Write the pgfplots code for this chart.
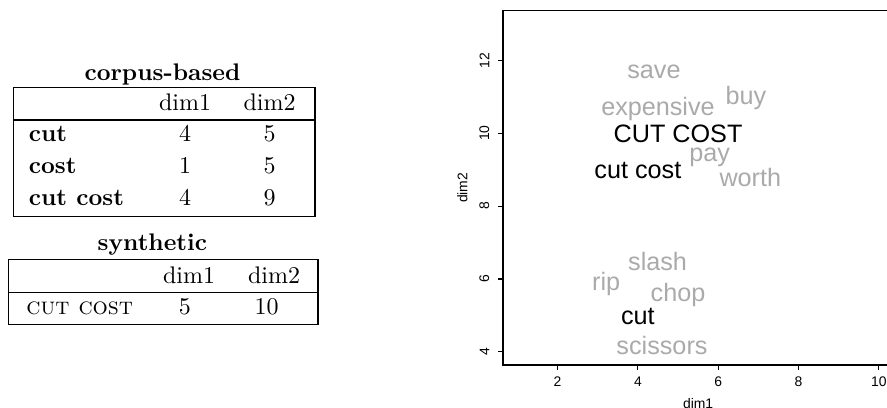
\documentclass[border=0pt]{standalone}
\usepackage{fontspec}
\usepackage{pgfplots}
\pgfplotsset{compat=1.18}
\newfontfamily\arial{Liberation Sans}
\definecolor{wordgray}{RGB}{170,170,170}

\begin{document}
\begin{tikzpicture}[x=1pt,y=1pt]
% corpus-based table
\node[anchor=base] at (67.7,136.4) {\textbf{corpus-based}};
\draw[line width=0.45pt] (5.5,79.7) rectangle (131.25,133.5);
\draw[line width=0.45pt] (5.5,120) -- (131.25,120);
\node[anchor=base] at (77.1,123.9) {dim1};
\node[anchor=base] at (112.3,123.9) {dim2};
\node[anchor=base west,inner sep=0pt] at (11.8,111.0) {\textbf{cut}};
\node[anchor=base] at (77.1,111.0) {4};
\node[anchor=base] at (112.3,111.0) {5};
\node[anchor=base west,inner sep=0pt] at (11.8,97.8) {\textbf{cost}};
\node[anchor=base] at (77.1,97.8) {1};
\node[anchor=base] at (112.3,97.8) {5};
\node[anchor=base west,inner sep=0pt] at (11.8,84.3) {\textbf{cut cost}};
\node[anchor=base] at (77.1,84.3) {4};
\node[anchor=base] at (112.3,84.3) {9};
% synthetic table
\node[anchor=base] at (63.5,65.8) {\textbf{synthetic}};
\draw[line width=0.45pt] (3.5,34.6) rectangle (132.5,61.9);
\draw[line width=0.45pt] (3.5,48.0) -- (132.5,48.0);
\node[anchor=base] at (78.8,52.0) {dim1};
\node[anchor=base] at (114.2,52.0) {dim2};
\node[anchor=base west,inner sep=0pt] at (10.8,38.75) {\textsc{cut cost}};
\node[anchor=base] at (77.0,38.75) {5};
\node[anchor=base] at (111.1,38.75) {10};

\begin{axis}[
  at={(209.6pt,17.9pt)}, anchor=south west,
  scale only axis, width=162.6pt, height=147.6pt,
  xmin=0.64, xmax=10.36, ymin=3.64, ymax=13.36,
  xtick={2,4,6,8,10}, ytick={4,6,8,10,12},
  tick align=outside, xtick pos=left, ytick pos=left,
  major tick length=2.1pt,
  axis line style={line width=0.45pt},
  every tick/.style={black, line width=0.45pt},
  /pgf/number format/assume math mode=true,
  tick label style={font=\arial\fontsize{5.8}{7}\selectfont, inner sep=0pt},
  xticklabel style={anchor=north},
  yticklabel style={rotate=90, anchor=south},
  xticklabel shift=2.8pt, yticklabel shift=3.4pt,
  xlabel={dim1}, ylabel={dim2},
  label style={font=\arial\fontsize{5.8}{7}\selectfont, inner sep=0pt},
  xlabel style={at={(axis description cs:0.5,-0.1098)}, anchor=center},
  ylabel style={at={(axis description cs:-0.104,0.5)}, anchor=center},
  clip=false,
]
% neighbour words
\addplot[only marks, mark=none, point meta=explicit symbolic,
  nodes near coords, nodes near coords align={center},
  nodes near coords style={anchor=base, yshift=-3.8pt, inner sep=0pt,
    text=wordgray, font=\arial\fontsize{10.5}{12}\selectfont}]
coordinates {
  (4.40,11.75) [save]
  (4.50,10.74) [expensive]
  (6.69,11.04) [buy]
  (5.79,9.48) [pay]
  (6.80,8.80) [worth]
  (4.49,6.48) [slash]
  (3.21,5.93) [rip]
  (5.00,5.64) [chop]
  (4.60,4.17) [scissors]
};
% target phrases
\addplot[only marks, mark=none, point meta=explicit symbolic,
  nodes near coords, nodes near coords align={center},
  nodes near coords style={anchor=base, yshift=-3.8pt, inner sep=0pt,
    text=black, font=\arial\fontsize{10.5}{12}\selectfont}]
coordinates {
  (5,10) [CUT COST]
  (4,9) [cut cost]
  (4,5) [cut]
};
\end{axis}
\pgfresetboundingbox
\path[use as bounding box] (0,0) rectangle (369.6,170);
\end{tikzpicture}
\end{document}
